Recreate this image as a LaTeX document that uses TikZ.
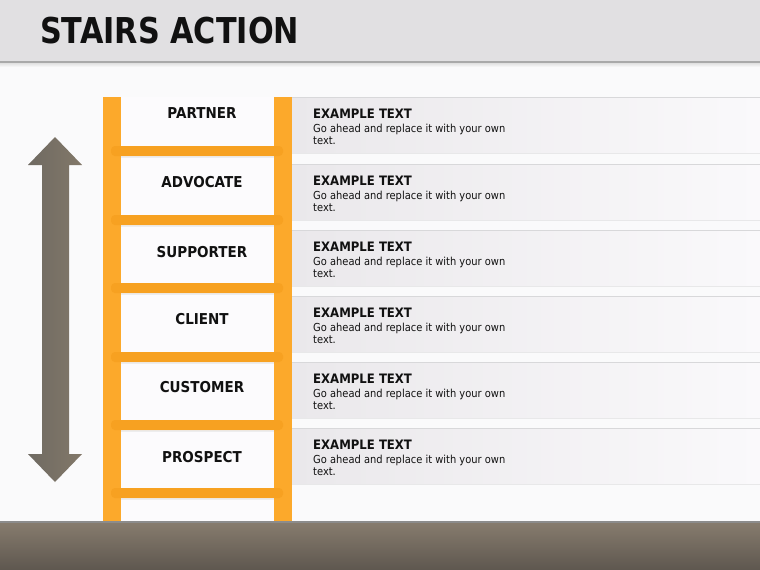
\documentclass[tikz,border=0pt]{standalone}
\usepackage{fontspec}
\newfontfamily\djv{DejaVu Sans}[FakeStretch=0.9]
\newfontfamily\djvt{DejaVu Sans}[FakeStretch=0.85]
\definecolor{bgc}{HTML}{FAFAFB}
\definecolor{headc}{HTML}{E1E0E2}
\definecolor{headline}{HTML}{A9A9A9}
\definecolor{railc}{HTML}{FCA92B}
\definecolor{rungc}{HTML}{F7A121}
\definecolor{boxc}{HTML}{FCFBFD}
\definecolor{panl}{HTML}{EAE8EB}
\definecolor{panr}{HTML}{FAF9FB}
\definecolor{panline}{HTML}{D8D8DA}
\definecolor{arrl}{HTML}{6F6A62}
\definecolor{arrr}{HTML}{827869}
\definecolor{bandt}{HTML}{877C6E}
\definecolor{bandb}{HTML}{5E574F}
\definecolor{txt}{HTML}{111111}
\tikzset{
  rail/.style={fill=railc, draw=none},
  rungbar/.style={fill=rungc, draw=none, rounded corners=4pt},
  panel/.style={left color=panl, right color=panr, draw=none},
  steplabel/.style={font=\djv\bfseries\fontsize{15}{18}\selectfont, text=txt, inner sep=0pt},
  ptitle/.style={font=\djv\bfseries\fontsize{13}{15}\selectfont, text=txt, inner sep=0pt, anchor=base west},
  pbody/.style={font=\djv\fontsize{11}{13}\selectfont, text=txt, inner sep=0pt, anchor=base west},
}
\begin{document}
\begin{tikzpicture}[x=1pt,y=-1pt]
\useasboundingbox (0,0) rectangle (760,570);
% background
\fill[bgc] (0,0) rectangle (760,570);
% header
\fill[headc] (0,0) rectangle (760,61);
\fill[headline] (0,61) rectangle (760,63);
\shade[top color=black!12, bottom color=bgc] (0,63) rectangle (760,67);
\node[font=\djvt\bfseries\fontsize{35.6}{40}\selectfont, text=txt, inner sep=0pt, anchor=base west] (title) at (40,43) {STAIRS ACTION};
% panels
\foreach \t/\n in {97/1,164/2,230/3,296/4,362/5,428/6}{
  \shade[panel] (292,\t) rectangle (760,\t+56);
  \draw[panline, line width=1pt] (292,\t) -- (760,\t);
  \draw[panline!60, line width=0.8pt] (292,\t+56) -- (760,\t+56);
  \node[ptitle] (pt\n) at (313,\t+21) {EXAMPLE TEXT};
  \node[pbody] (pa\n) at (313,\t+35) {Go ahead and replace it with your own};
  \node[pbody] (pb\n) at (313,\t+47.5) {text.};
}
% ladder
\fill[boxc] (121,97) rectangle (274,522);
\fill[rail] (103,97) rectangle (121,522);
\fill[rail] (274,97) rectangle (292,522);
\foreach \r in {146,215,283,352,420,488}{
  \fill[rungbar] (111,\r) rectangle (283,\r+10);
  \fill[black!12, opacity=0.5] (121,\r+10) rectangle (274,\r+11.5);
}
\node[steplabel] (l1) at (202,113.5) {PARTNER};
\node[steplabel] (l2) at (202,182.5) {ADVOCATE};
\node[steplabel] (l3) at (202,252.5) {SUPPORTER};
\node[steplabel] (l4) at (202,319.5) {CLIENT};
\node[steplabel] (l5) at (202,387.5) {CUSTOMER};
\node[steplabel] (l6) at (202,457.5) {PROSPECT};
% double arrow
\shade[left color=arrl, right color=arrr, draw=none]
  (55,137) -- (82,165) -- (69,165) -- (69,454) -- (82,454) -- (55,482)
  -- (28,454) -- (42,454) -- (42,165) -- (28,165) -- cycle;
% bottom band
\shade[top color=bandt, bottom color=bandb] (0,522) rectangle (760,570);
\fill[black!45] (0,521) rectangle (760,522.5);
\end{tikzpicture}
\end{document}
